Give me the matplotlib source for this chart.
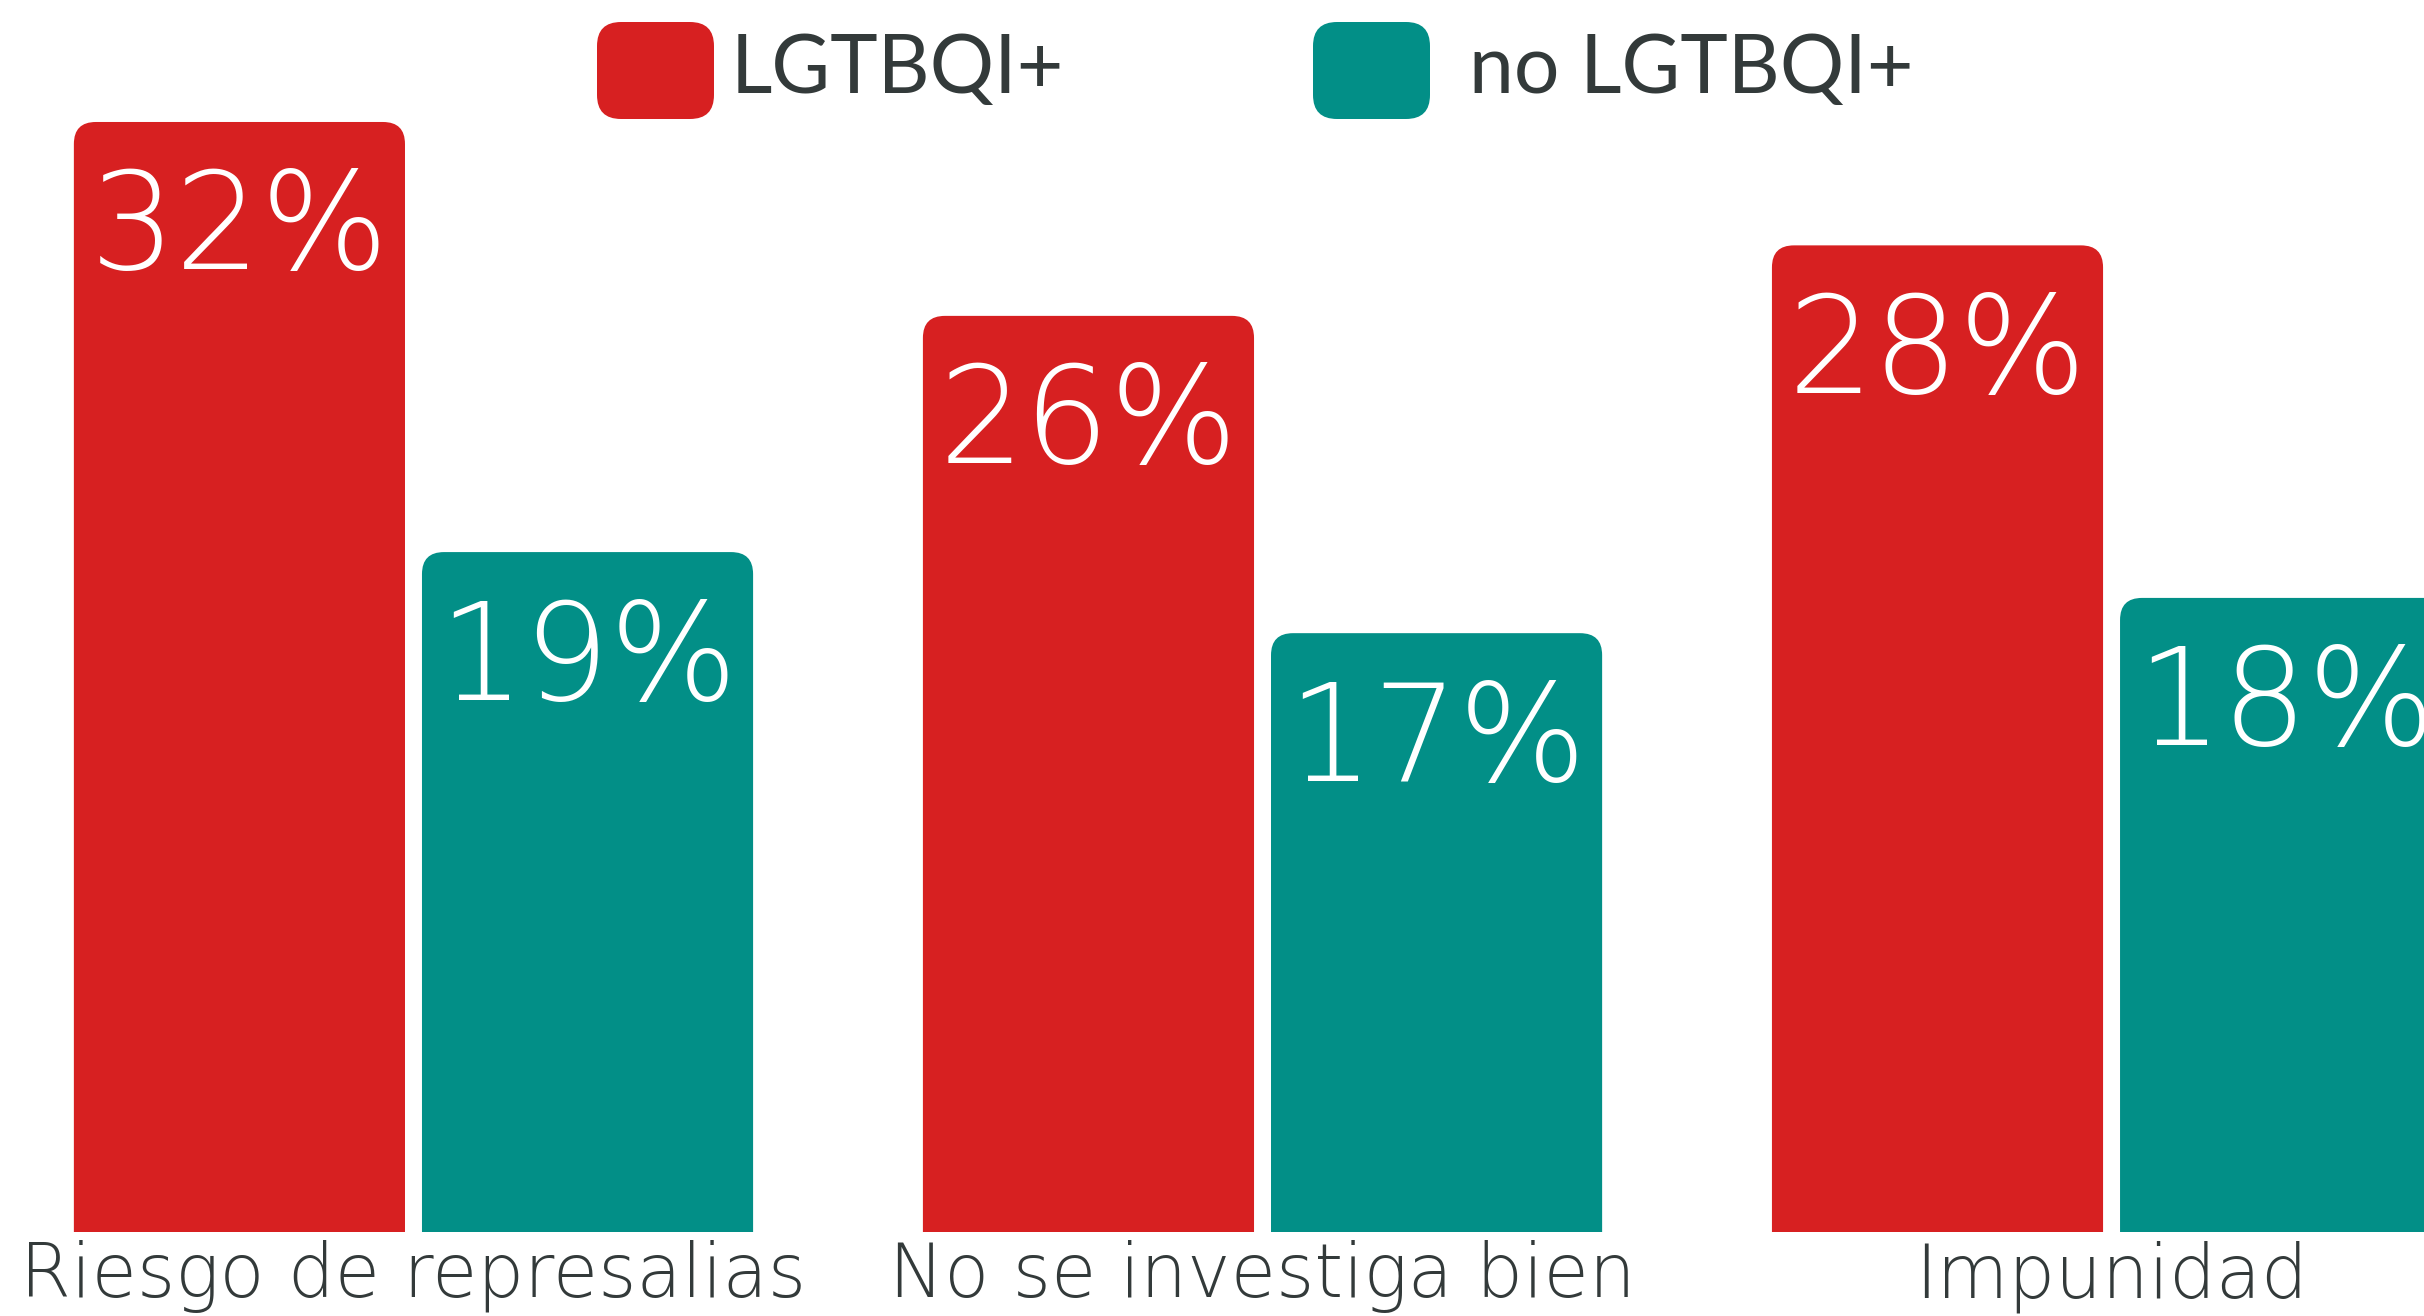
import numpy as np
import matplotlib.pyplot as plt
from matplotlib.patches import FancyBboxPatch

categories = ['Riesgo de represalias', 'No se investiga bien', 'Impunidad']
lgtbqi = [31.5, 26, 28]
no_lgtbqi = [19.3, 17, 18]
series_names = ['LGTBQI+', 'no LGTBQI+']

red = '#D72021'
teal = '#028F87'
grey = '#333A3A'

plt.rcParams['font.family'] = ['DejaVu Sans']

fig = plt.figure(figsize=(24.24, 13.16), dpi=100)
ax = fig.add_axes([0, 54 / 851, 1, 797 / 851])
ax.set_xlim(-0.487, 2.368)
ax.set_ylim(0, 34.96)
ax.axis('off')

x = np.arange(len(categories))
w = 0.39
off = 0.205
bars_a = ax.bar(x - off, lgtbqi, w, color=red)
bars_b = ax.bar(x + off, no_lgtbqi, w, color=teal)

# ratio of pixel sizes so the corners come out round
fig.canvas.draw()
p0 = ax.transData.transform((0, 0))
p1 = ax.transData.transform((1, 1))
px_x = p1[0] - p0[0]
px_y = p1[1] - p0[1]
aspect = px_x / px_y
r = 22 / px_x

for bars, col in [(bars_a, red), (bars_b, teal)]:
    for rect in bars:
        bx, by, bw, bh = rect.get_x(), rect.get_y(), rect.get_width(), rect.get_height()
        rect.set_visible(False)
        p = FancyBboxPatch((bx, by - 3), bw, bh + 3,
                           boxstyle=f'round,pad=0,rounding_size={r}',
                           mutation_aspect=aspect, facecolor=col, edgecolor='none')
        ax.add_patch(p)
        ax.annotate(f'{bh:.0f}%', (bx + bw / 2, bh), xytext=(0, -32),
                    textcoords='offset points', ha='center', va='top',
                    color='white', fontsize=97, fontweight='light')

for i, cat in enumerate(categories):
    ax.text(x[i], -0.0527, cat, transform=ax.get_xaxis_transform(),
            ha='center', va='baseline', fontsize=53, color=grey,
            fontweight='light')

# legend
fw, fh = fig.get_size_inches() * fig.dpi
leg_x = [597, 1313]
txt_x = [731, 1469]
for lx, tx, col, name in zip(leg_x, txt_x, [red, teal], series_names):
    p = FancyBboxPatch((lx / fw, 1 - 119 / fh), 117 / fw, 97 / fh,
                       boxstyle=f'round,pad=0,rounding_size={24 / fw}',
                       mutation_aspect=fw / fh, facecolor=col, edgecolor='none',
                       transform=fig.transFigure)
    fig.add_artist(p)
    fig.text(tx / fw, 1 - 70 / fh, name, ha='left', va='center',
             fontsize=58, color=grey, family=['Lato', 'DejaVu Sans'])

fig.savefig('out.png', dpi=100)
